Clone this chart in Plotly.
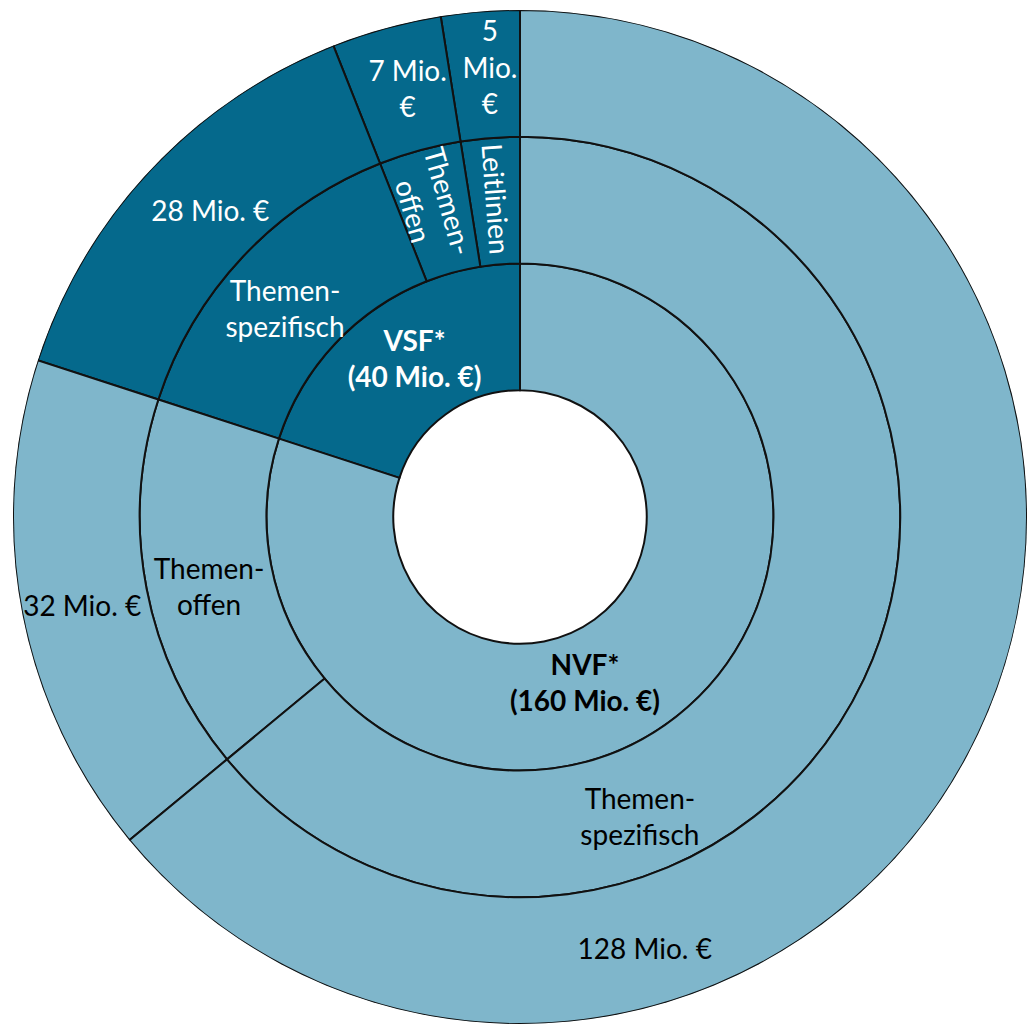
import math
import plotly.graph_objects as go

# ---- data -------------------------------------------------------------
# inner ring: the two funding lines
fund_names = ["VSF*", "NVF*"]
fund_values = [40, 160]
fund_labels = ["<b>VSF*<br>(40 Mio. €)</b>", "<b>NVF*<br>(160 Mio. €)</b>"]

# middle ring: programmes inside each funding line (counter-clockwise from 12 o'clock)
prog_parent = ["VSF*", "VSF*", "VSF*", "NVF*", "NVF*"]
prog_labels = ["Leitlinien", "Themen-<br>offen", "Themen-<br>spezifisch",
               "Themen-<br>offen", "Themen-<br>spezifisch"]
prog_values = [5, 7, 28, 32, 128]

# outer ring: budget per programme
amount_labels = ["5<br>Mio.<br>€", "7 Mio.<br>€", "28 Mio. €", "32 Mio. €", "128 Mio. €"]

# ---- styling ----------------------------------------------------------
W, H = 1028, 1027
CX, CY, RADIUS = 520, 517, 507      # pixel centre / outer radius of the rings
N_RINGS = 4                         # hole + three rings of equal width
DARK, LIGHT = "#05698c", "#7fb6cb"
EDGE = "#111111"
FONT = "Lato"
FS = 28

fill = {"VSF*": DARK, "NVF*": LIGHT}
ink = {"VSF*": "white", "NVF*": "black"}

# label placement: (angle ccw from top, radius in ring units)
fund_label_pos = [(34.2, 1.48), (201.0, 1.43)]
prog_label_pos = [(4.3, 2.52), (15.9, 2.55), (48.9, 2.46), (103.2, 2.52), (201.6, 2.57)]
amount_label_pos = [(3.85, 3.53), (14.8, 3.47), (45.6, 3.42), (101.9, 3.53), (196.0, 3.57)]
prog_rotated = [True, True, False, False, False]

total = sum(fund_values)


def segments(values):
    """Centre angle and angular width (degrees) of consecutive slices."""
    out, acc = [], 0.0
    for v in values:
        w = v / total * 360.0
        out.append((acc + w / 2, w))
        acc += w
    return out


fund_seg = segments(fund_values)
prog_seg = segments(prog_values)

fig = go.Figure()


def ring(seg, base, colors):
    fig.add_trace(go.Barpolar(
        theta=[s[0] for s in seg],
        width=[s[1] for s in seg],
        r=[1] * len(seg),
        base=[base] * len(seg),
        marker=dict(color=colors, line=dict(color=EDGE, width=2)),
        hoverinfo="skip",
    ))


ring(fund_seg, 1, [fill[f] for f in fund_names])
ring(prog_seg, 2, [fill[p] for p in prog_parent])
ring(prog_seg, 3, [fill[p] for p in prog_parent])


def text_layer(labels, pos, colors, keep):
    idx = [i for i in range(len(labels)) if keep[i]]
    fig.add_trace(go.Scatterpolar(
        theta=[pos[i][0] for i in idx],
        r=[pos[i][1] for i in idx],
        text=[labels[i] for i in idx],
        mode="text",
        textposition="middle center",
        textfont=dict(family=FONT, size=FS, color=[colors[i] for i in idx]),
        hoverinfo="skip",
    ))


text_layer(fund_labels, fund_label_pos, [ink[f] for f in fund_names], [True] * 2)
text_layer(prog_labels, prog_label_pos, [ink[p] for p in prog_parent],
           [not r for r in prog_rotated])
text_layer(amount_labels, amount_label_pos, [ink[p] for p in prog_parent], [True] * 5)

# radially oriented labels in the narrow VSF slices
unit = RADIUS / N_RINGS
annotations = []
for i, rot in enumerate(prog_rotated):
    if not rot:
        continue
    ang, rr = prog_label_pos[i]
    a = math.radians(ang)
    px = CX - rr * unit * math.sin(a)
    py = CY - rr * unit * math.cos(a)
    annotations.append(dict(
        x=px / W, y=1 - py / H, xref="paper", yref="paper",
        text=prog_labels[i], showarrow=False, textangle=90 - ang,
        xanchor="center", yanchor="middle",
        font=dict(family=FONT, size=FS, color=ink[prog_parent[i]]),
    ))

fig.update_layout(
    width=W, height=H,
    margin=dict(l=0, r=0, t=0, b=0),
    paper_bgcolor="white",
    showlegend=False,
    annotations=annotations,
    polar=dict(
        domain=dict(x=[(CX - RADIUS) / W, (CX + RADIUS) / W],
                    y=[1 - (CY + RADIUS) / H, 1 - (CY - RADIUS) / H]),
        bgcolor="white",
        bargap=0,
        radialaxis=dict(visible=False, range=[0, N_RINGS], showgrid=False),
        angularaxis=dict(visible=False, rotation=90, direction="counterclockwise",
                         showgrid=False),
    ),
)

fig.write_html("out.html")
